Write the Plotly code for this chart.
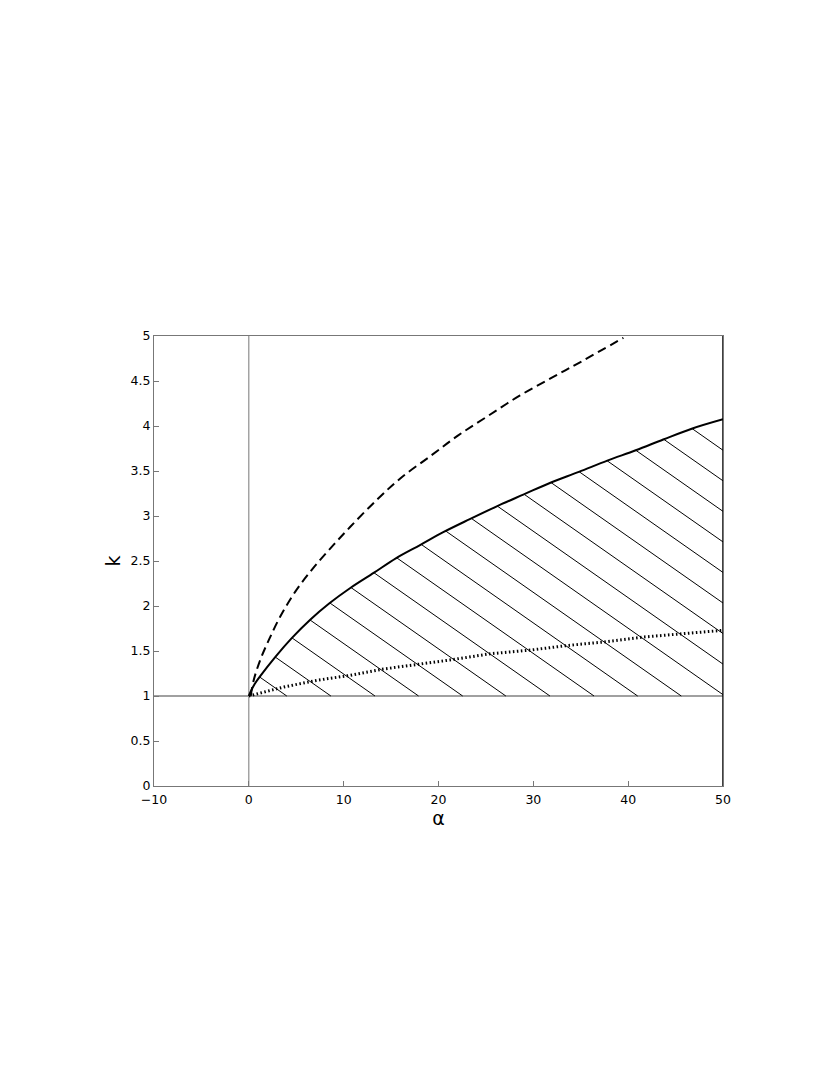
"""
k against alpha: the three boundary curves, with the region that has hatching
"""

import numpy as np
import plotly.graph_objects as go

# solid curve (upper edge of the hatched region)
solid_alpha = [0, 0.2, 0.6, 1.2, 2.8, 4.5, 6.5, 8.5, 10.7, 13.2, 15.5, 18.1, 20.5,
               23.3, 26.2, 29.0, 31.8, 34.8, 37.8, 40.8, 43.7, 46.7, 50]
solid_k = [1.0, 1.05, 1.13, 1.22, 1.435, 1.64, 1.85, 2.03, 2.20, 2.37, 2.53, 2.68, 2.82,
           2.965, 3.11, 3.24, 3.37, 3.49, 3.615, 3.73, 3.85, 3.97, 4.075]

# dashed curve
dash_alpha = [0.2, 0.5, 1.2, 2.1, 3.3, 4.9, 6.7, 8.6, 10.7, 13.5, 16.0, 19.2,
              22.0, 25.2, 28.6, 32.1, 35.3, 39.5]
dash_k = [1.0, 1.17, 1.40, 1.62, 1.88, 2.16, 2.41, 2.64, 2.88, 3.18, 3.42, 3.67,
          3.89, 4.11, 4.34, 4.545, 4.73, 4.98]

# dotted curve
dot_alpha = [0, 3.7, 7.2, 10.7, 14.2, 17.7, 21.2, 25.5, 29.7, 33.5, 37.4, 41.6, 45.8, 50]
dot_k = [1.0, 1.10, 1.175, 1.23, 1.30, 1.35, 1.40, 1.47, 1.51, 1.56, 1.60, 1.655, 1.69, 1.73]

# hatching: where each hatch line meets k = 1 (extended past alpha = 50), and its slope
hatch_alpha0 = [4.0, 8.65, 13.3, 17.9, 22.55, 27.1, 31.75, 36.4, 41.0, 45.6, 50.2,
                54.8, 59.4, 64.0, 68.6, 73.2, 77.8, 82.4, 87.0]
hatch_slope = 0.0738

x_ticks = [-10, 0, 10, 20, 30, 40, 50]
x_ticktext = ['\u221210', '0', '10', '20', '30', '40', '50']
y_ticks = [0, 0.5, 1, 1.5, 2, 2.5, 3, 3.5, 4, 4.5, 5]
y_ticktext = ['0', '0.5', '1', '1.5', '2', '2.5', '3', '3.5', '4', '4.5', '5']

# hatch segments, clipped by the solid curve and by alpha = 50
hx, hy = [], []
grid = np.linspace(0, 50, 5001)
upper = np.interp(grid, solid_alpha, solid_k)
for a0 in hatch_alpha0:
    line_k = 1 + hatch_slope * (a0 - grid)
    ok = (line_k <= upper) & (line_k >= 1)
    if not ok.any():
        continue
    a_start = grid[ok][0]
    a_end = grid[ok][-1]
    hx += [a_start, a_end, None]
    hy += [1 + hatch_slope * (a0 - a_start), 1 + hatch_slope * (a0 - a_end), None]

fig = go.Figure()

# reference lines alpha = 0 and k = 1
fig.add_trace(go.Scatter(x=[0, 0], y=[0, 5], mode='lines',
                         line=dict(color='#777777', width=1), showlegend=False))
fig.add_trace(go.Scatter(x=[-10, 50], y=[1, 1], mode='lines',
                         line=dict(color='#a0a0a0', width=2), showlegend=False))

fig.add_trace(go.Scatter(x=hx, y=hy, mode='lines',
                         line=dict(color='black', width=1), showlegend=False))

fig.add_trace(go.Scatter(x=dot_alpha, y=dot_k, mode='lines',
                         line=dict(color='black', width=3, dash='1.5px,2.5px'),
                         showlegend=False))
fig.add_trace(go.Scatter(x=dash_alpha, y=dash_k, mode='lines',
                         line=dict(color='black', width=2, dash='9px,5px', shape='spline'),
                         showlegend=False))
fig.add_trace(go.Scatter(x=solid_alpha, y=solid_k, mode='lines',
                         line=dict(color='black', width=2, shape='spline'),
                         showlegend=False))

# right edge of the box is drawn black in the original
fig.add_trace(go.Scatter(x=[50, 50], y=[0, 5], mode='lines',
                         line=dict(color='black', width=1.5), showlegend=False))

fig.update_layout(
    width=830,
    height=1075,
    margin=dict(l=146, r=115, t=328, b=297),
    paper_bgcolor='white',
    plot_bgcolor='white',
    font=dict(family='DejaVu Sans, Arial, sans-serif', size=12.5, color='black'),
    xaxis=dict(
        range=[-10, 50], tickvals=x_ticks, ticktext=x_ticktext,
        ticks='inside', ticklen=5, tickcolor='#777777', ticklabelstandoff=2,
        showline=True, linecolor='#777777', linewidth=1, mirror=True,
        showgrid=False, zeroline=False,
        title=dict(text='\u03b1', font=dict(size=19), standoff=0),
    ),
    yaxis=dict(
        range=[0, 5], tickvals=y_ticks, ticktext=y_ticktext,
        ticks='inside', ticklen=5, tickcolor='#777777',
        showline=True, linecolor='#777777', linewidth=1, mirror=True,
        showgrid=False, zeroline=False,
        title=dict(text='k', font=dict(size=19), standoff=4),
    ),
)

fig.write_html("out.html")
